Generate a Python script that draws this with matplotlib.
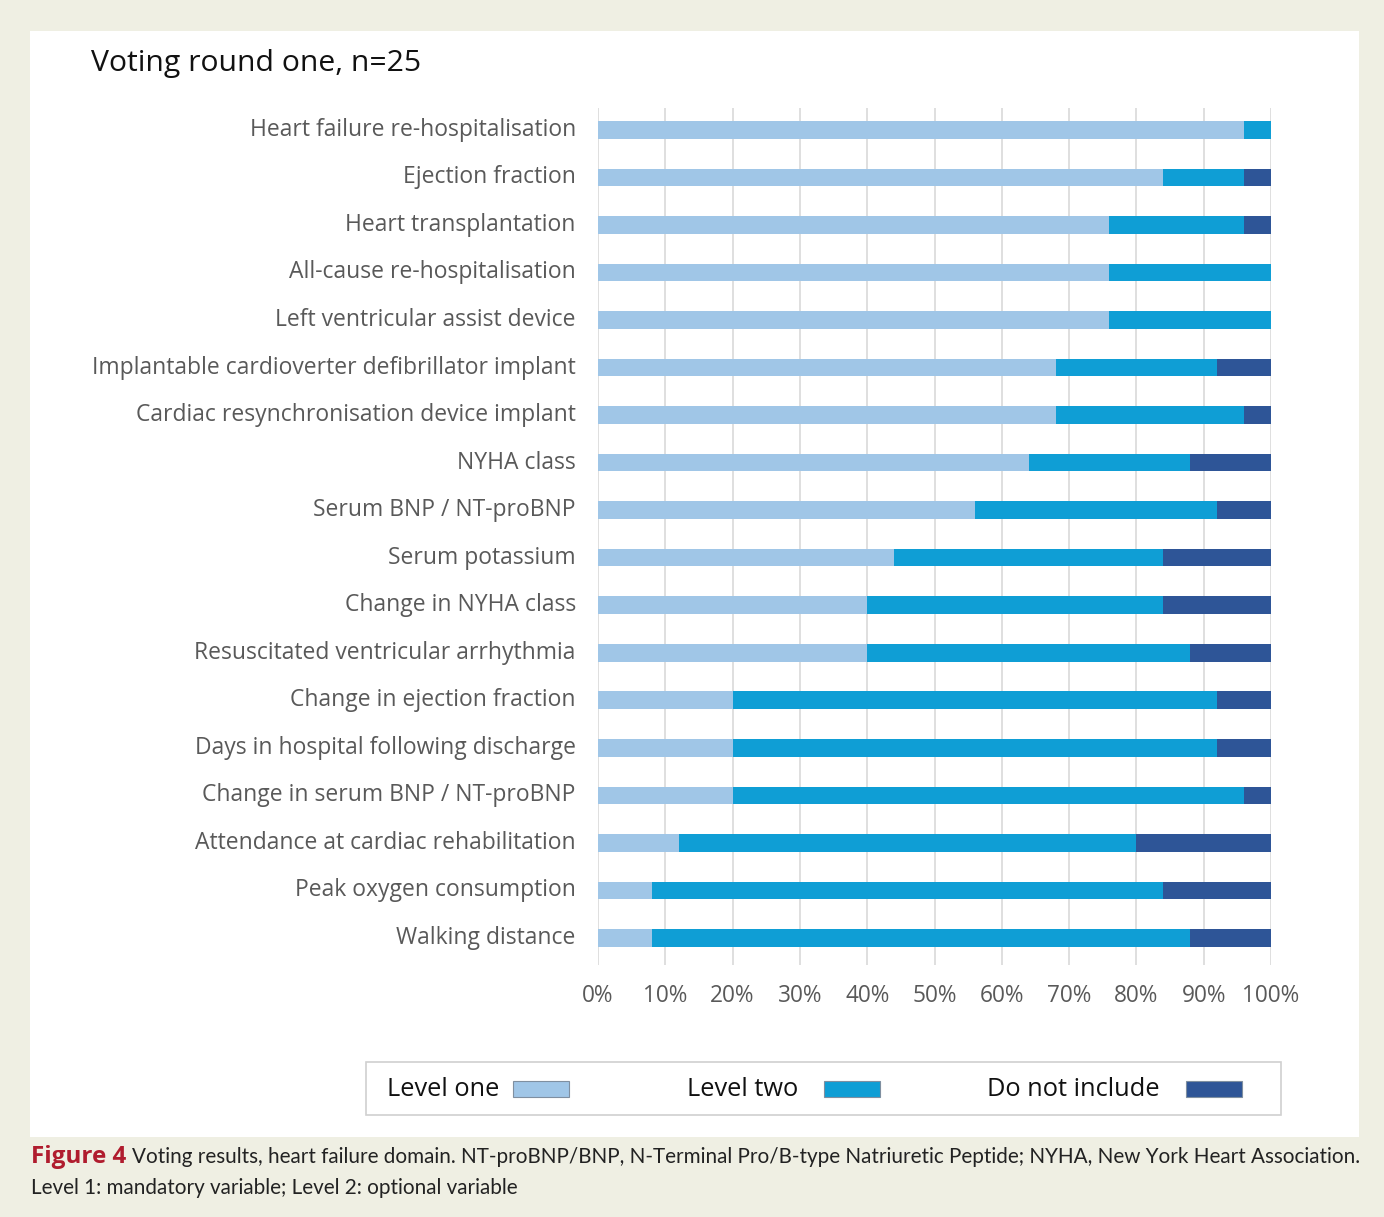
import matplotlib
matplotlib.use("Agg")
import matplotlib.pyplot as plt
from matplotlib.patches import Rectangle
import numpy as np

categories = [
    "Heart failure re-hospitalisation",
    "Ejection fraction",
    "Heart transplantation",
    "All-cause re-hospitalisation",
    "Left ventricular assist device",
    "Implantable cardioverter defibrillator implant",
    "Cardiac resynchronisation device implant",
    "NYHA class",
    "Serum BNP / NT-proBNP",
    "Serum potassium",
    "Change in NYHA class",
    "Resuscitated ventricular arrhythmia",
    "Change in ejection fraction",
    "Days in hospital following discharge",
    "Change in serum BNP / NT-proBNP",
    "Attendance at cardiac rehabilitation",
    "Peak oxygen consumption",
    "Walking distance",
]
level_one = [96, 84, 76, 76, 76, 68, 68, 64, 56, 44, 40, 40, 20, 20, 20, 12, 8, 8]
level_two = [4, 12, 20, 24, 24, 24, 28, 24, 36, 40, 44, 48, 72, 72, 76, 68, 76, 80]
do_not_include = [0, 4, 4, 0, 0, 8, 4, 12, 8, 16, 16, 12, 8, 8, 4, 20, 16, 12]
series_names = ["Level one", "Level two", "Do not include"]
x_ticks = [0, 10, 20, 30, 40, 50, 60, 70, 80, 90, 100]

colors = ["#a0c6e7", "#0f9ed5", "#2e5597"]
W, H = 1384, 1217
fig = plt.figure(figsize=(W / 100, H / 100), dpi=100)
fig.patch.set_facecolor("#efefe3")

# white panel
fig.patches.append(Rectangle((30 / W, 1 - 1137 / H), (1359 - 30) / W, (1137 - 31) / H,
                             transform=fig.transFigure, facecolor="white", edgecolor="none", zorder=-5))

x0, x1 = 598, 1271
y_top, y_bot = 108, 965
ax = fig.add_axes([x0 / W, 1 - y_bot / H, (x1 - x0) / W, (y_bot - y_top) / H])
ax.set_zorder(5)
ax.set_facecolor("none")
y = np.arange(len(categories))
l1 = np.array(level_one)
l2 = np.array(level_two)
l3 = np.array(do_not_include)
bh = 0.37
ax.barh(y, l1, height=bh, color=colors[0], zorder=3)
ax.barh(y, l2, left=l1, height=bh, color=colors[1], zorder=3)
ax.barh(y, l3, left=l1 + l2, height=bh, color=colors[2], zorder=3)
ax.set_xlim(0, 100)
ax.set_ylim(len(categories) - 1 + 0.57, -0.46)
ax.set_xticks(x_ticks)
ax.set_xticklabels([f"{t}%" for t in x_ticks])
ax.set_yticks(y)
ax.set_yticklabels(categories)
ax.grid(axis="x", color="#d9d9d9", linewidth=1.2, zorder=0)
for s in ax.spines.values():
    s.set_visible(False)
ax.tick_params(axis="both", length=0, colors="#595959")
ax.tick_params(axis="y", pad=16, labelsize=16.5)
ax.tick_params(axis="x", pad=14, labelsize=16.3)
for lab in ax.get_yticklabels() + ax.get_xticklabels():
    lab.set_family("Open Sans")
    lab.set_color("#595959")
for lab in ax.get_yticklabels():
    lab.set_y(lab.get_position()[1])
    lab.set_va("center")

# title
fig.text(91 / W, 1 - 64 / H, "Voting round one, n=25", fontsize=21.7, family="Open Sans",
         color="#111111", va="center", ha="left")

# legend box
lx0, lx1, ly0, ly1 = 366, 1281, 1062, 1115
fig.patches.append(Rectangle((lx0 / W, 1 - ly1 / H), (lx1 - lx0) / W, (ly1 - ly0) / H,
                             transform=fig.transFigure, facecolor="white", edgecolor="#d0d0d0",
                             linewidth=1.2, zorder=1))
leg_text_x = [387, 687, 987]
leg_patch_x = [513, 824, 1186]
ly = 1089
for name, tx, px, c in zip(series_names, leg_text_x, leg_patch_x, colors):
    fig.text(tx / W, 1 - (ly + 1) / H, name, fontsize=18.3, family="Open Sans", color="#111111",
             va="center", ha="left")
    fig.patches.append(Rectangle((px / W, 1 - (ly + 8) / H), 56 / W, 16 / H,
                                 transform=fig.transFigure, facecolor=c, edgecolor="#7f8fa0",
                                 linewidth=0.8, zorder=2))

# caption
cap_y1 = 1 - 1157 / H
cap_y2 = 1 - 1188 / H
t = fig.text(31 / W, cap_y1, "Figure 4", fontsize=17.5, family="Open Sans", weight="bold",
             color="#b01c2e", va="center", ha="left")
fig.canvas.draw()
bb = t.get_window_extent()
fig.text((bb.x1 + 6) / W, cap_y1,
         "Voting results, heart failure domain. NT-proBNP/BNP, N-Terminal Pro/B-type Natriuretic Peptide; NYHA, New York Heart Association.",
         fontsize=14.9, family="Lato", color="#222222", va="center", ha="left")
fig.text(31 / W, cap_y2, "Level 1: mandatory variable; Level 2: optional variable",
         fontsize=14.9, family="Lato", color="#222222", va="center", ha="left")

fig.savefig("out.png", dpi=100, facecolor=fig.get_facecolor())
